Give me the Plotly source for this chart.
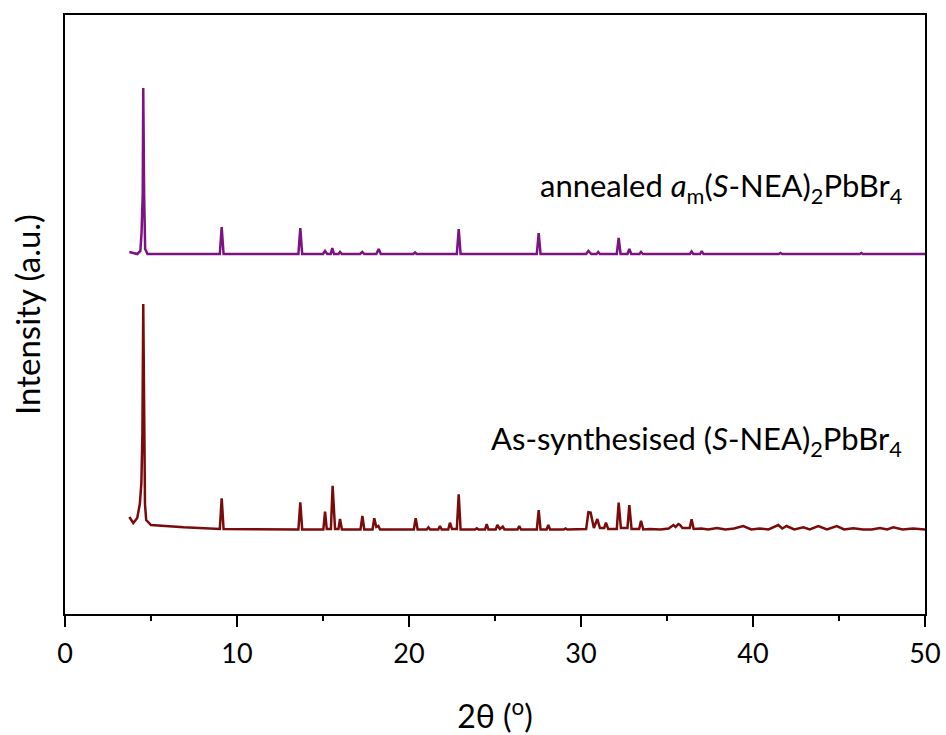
import plotly.graph_objects as go

# ---- data (2θ in degrees, intensity in arbitrary units) ----
annealed_2theta = [
    3.74, 4.20, 4.38, 4.45, 4.52, 4.55, 4.60, 4.66, 4.80,
    9.00, 9.11, 9.22,
    13.57, 13.68, 13.79,
    15.00, 15.12, 15.25, 15.45, 15.54, 15.64, 15.90, 15.99, 16.10,
    17.15, 17.28, 17.40, 18.10, 18.24, 18.36,
    20.25, 20.35, 20.45,
    22.78, 22.89, 23.00,
    27.43, 27.54, 27.65,
    30.30, 30.43, 30.60, 30.90, 31.00, 31.10,
    32.08, 32.19, 32.30, 32.70, 32.81, 32.92, 33.40, 33.49, 33.60,
    36.33, 36.43, 36.53, 36.92, 37.02, 37.12,
    40.00, 41.50, 41.60, 41.70, 44.00, 46.20, 46.30, 46.40, 50.00,
]
annealed_intensity = [
    362, 360, 363, 381, 420, 526, 420, 365, 360,
    360, 387, 360,
    360, 386, 360,
    360, 363, 360, 360, 366, 360, 360, 362, 360,
    360, 362, 360, 360, 365, 360,
    360, 361.5, 360,
    360, 385, 360,
    360, 381, 360,
    360, 363, 360, 360, 362, 360,
    360, 376, 360, 360, 365, 360, 360, 362, 360,
    360, 362.5, 360, 360, 363, 360,
    360, 360, 361, 360, 360, 360, 361, 360, 360,
]

as_synth_2theta = [
    3.74, 3.97, 4.20, 4.35, 4.44, 4.50, 4.55, 4.60, 4.65, 4.72, 5.00, 6.90, 8.80,
    9.00, 9.11, 9.22,
    13.57, 13.68, 13.79,
    15.02, 15.12, 15.22, 15.46, 15.56, 15.70, 15.90, 15.99, 16.10,
    17.18, 17.29, 17.40, 17.88, 17.98, 18.10, 18.22, 18.32,
    20.28, 20.39, 20.50,
    21.03, 21.13, 21.23, 21.70, 21.80, 21.90, 22.28, 22.38, 22.50,
    22.78, 22.89, 23.00,
    23.84, 23.94, 24.04, 24.42, 24.52, 24.62, 25.04, 25.14, 25.28, 25.45, 25.55,
    26.31, 26.41, 26.51,
    27.43, 27.54, 27.65, 28.00, 28.10, 28.20, 29.00, 29.10, 29.20,
    30.30, 30.43, 30.56, 30.75, 30.95, 31.10, 31.35, 31.45, 31.58,
    32.08, 32.19, 32.32, 32.70, 32.81, 32.94, 33.38, 33.49, 33.62, 34.00, 34.60,
    35.10, 35.37, 35.50, 35.66, 35.76, 35.90, 36.32, 36.43, 36.55,
    37.00, 37.40, 37.90, 38.40, 38.90, 39.43, 39.90, 40.40, 40.90,
    41.47, 41.70, 41.95, 42.40, 42.93, 43.30, 43.80, 44.30, 44.87,
    45.30, 45.83, 46.40, 46.90, 47.38, 47.80, 48.16, 48.70, 49.30, 50.00,
]
as_synth_intensity = [
    97, 91, 96, 110, 131, 180, 310, 180, 110, 94, 89, 86.7, 85,
    85, 115.7, 85,
    84.5, 111.7, 84.5,
    84.5, 102.3, 85, 85, 128.3, 85, 85, 95, 84.5,
    84.5, 98, 84.5, 84.5, 95.7, 87, 88, 84.5,
    84.5, 95.7, 84.5,
    84.5, 86.7, 84.5, 84.5, 88, 84.5, 84.5, 91.3, 85,
    85, 119.7, 84.5,
    84.5, 85.7, 84.5, 84.5, 90, 84.5, 84.5, 89, 85, 87.3, 84.5,
    84.5, 88, 84.5,
    84.5, 104, 84.5, 84.5, 89, 84.5, 84.5, 85.5, 84.5,
    85, 101.7, 101.3, 86, 95, 86, 86, 91.3, 85,
    85, 111.3, 86, 86, 109, 85, 85, 93.3, 84.5, 85, 84.5,
    85.5, 89, 87, 90, 89, 86, 86, 94.7, 85,
    85.5, 84.5, 86, 84.5, 85.5, 88, 84.5, 85.5, 84.5,
    89, 85.5, 88, 84.5, 86.7, 84.5, 88, 84.5, 88,
    84.5, 85.7, 84.5, 84.5, 86, 84.5, 86.7, 84.5, 85.5, 84.5,
]

x_ticks = [0, 10, 20, 30, 40, 50]
label_annealed = "annealed <i>a</i><sub>m</sub>(<i>S</i>-NEA)<sub>2</sub>PbBr<sub>4</sub>"
label_as_synth = "As-synthesised (<i>S</i>-NEA)<sub>2</sub>PbBr<sub>4</sub>"

FONT = "Lato"

fig = go.Figure()
fig.add_trace(go.Scatter(x=annealed_2theta, y=annealed_intensity, mode="lines",
                         line=dict(color="#7d1283", width=2.5), showlegend=False))
fig.add_trace(go.Scatter(x=as_synth_2theta, y=as_synth_intensity, mode="lines",
                         line=dict(color="#7a0b0b", width=2.5), showlegend=False))

fig.add_annotation(x=48.75, y=427, xref="x", yref="y", text=label_annealed,
                   showarrow=False, xanchor="right", yanchor="middle",
                   font=dict(family=FONT, size=31, color="black"))
fig.add_annotation(x=48.75, y=174, xref="x", yref="y", text=label_as_synth,
                   showarrow=False, xanchor="right", yanchor="middle",
                   font=dict(family=FONT, size=31, color="black"))

fig.update_layout(
    width=946, height=735,
    margin=dict(l=65, r=21, t=15, b=121, autoexpand=False),
    paper_bgcolor="white", plot_bgcolor="white",
    font=dict(family=FONT, color="black"),
)
fig.update_xaxes(
    range=[0, 50], tickvals=x_ticks, ticktext=[str(v) for v in x_ticks],
    showline=True, linecolor="black", linewidth=2, mirror=True,
    ticks="outside", ticklen=11, tickwidth=2, tickcolor="black",
    minor=dict(dtick=5, tick0=0, ticks="outside", ticklen=5, tickwidth=2, tickcolor="black"),
    showgrid=False, zeroline=False, automargin=False,
    ticklabelstandoff=4,
    tickfont=dict(family=FONT, size=27, color="black"),
    title=dict(text="2θ (<sup>o</sup>)", font=dict(family=FONT, size=32, color="black"), standoff=40),
)
fig.update_yaxes(
    range=[0, 599], showticklabels=False, ticks="",
    showline=True, linecolor="black", linewidth=2, mirror=True,
    showgrid=False, zeroline=False, automargin=False,
    title=dict(text="Intensity (a.u.)", font=dict(family=FONT, size=33, color="black"), standoff=12),
)

fig.write_html("out.html")
